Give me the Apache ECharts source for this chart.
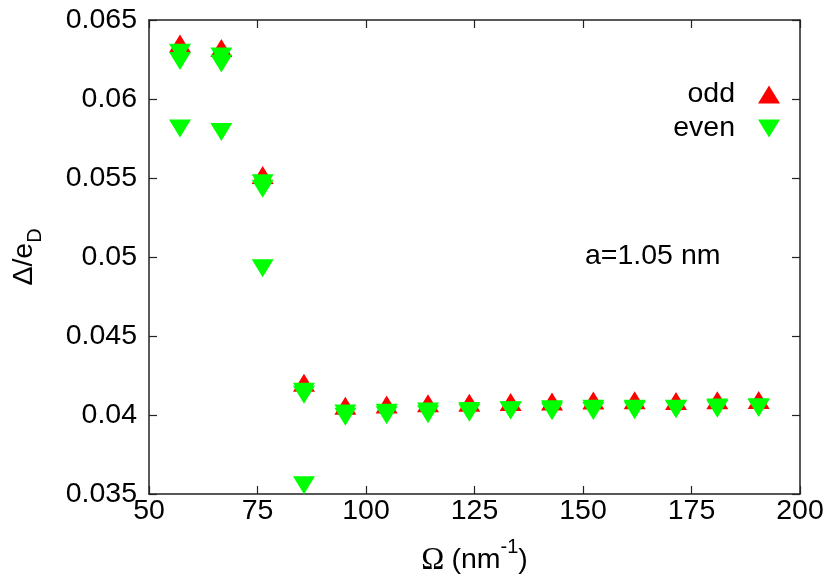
<!DOCTYPE html>
<html>
<head>
<meta charset="utf-8">
<script src="https://cdn.jsdelivr.net/npm/echarts@6/dist/echarts.min.js"></script>
<style>
  html, body { margin: 0; padding: 0; background: #fff; }
  #chart { width: 830px; height: 581px; }
</style>
</head>
<body>
<div id="chart"></div>
<script>
// Omega values (nm^-1), a = 1.05 nm
const omega = [57.14, 66.67, 76.19, 85.71, 95.24, 104.76, 114.29, 123.81, 133.33, 142.86, 152.38, 161.90, 171.43, 180.95, 190.48];

const oddVals = [0.06351, 0.06323, 0.05519, 0.04204, 0.04059, 0.04067, 0.04074, 0.04078, 0.04082, 0.04086, 0.04091, 0.04093, 0.04089, 0.04093, 0.04095];
const evenUpper = [0.06293, 0.06269, 0.05467, 0.04147, 0.04010, 0.04015, 0.04022, 0.04026, 0.04030, 0.04036, 0.04040, 0.04040, 0.04040, 0.04047, 0.04049];
const evenUpper2 = [0.06241, 0.06224, 0.05432, 0.04128, 0.03989, 0.03998, 0.04005, 0.04015, 0.04028, 0.04023, 0.04026, 0.04030, 0.04036, 0.04040, 0.04045];
const evenLower = [0.05814, 0.05791, 0.04929, 0.03555];

const xTicks = [50, 75, 100, 125, 150, 175, 200];
const yTicks = [0.035, 0.04, 0.045, 0.05, 0.055, 0.06, 0.065];

const UP = "path://M11,0L22,18L0,18Z";
const DOWN = "path://M0,0L22,0L11,18Z";
const FONT = "'Liberation Sans', Arial, sans-serif";
const FS = 28.5;

const zip = (xs, ys) => ys.map((y, i) => [xs[i], y]);
const evenData = zip(omega, evenUpper).concat(zip(omega, evenUpper2), zip(omega, evenLower));

const chart = echarts.init(document.getElementById("chart"), null, { renderer: "canvas" });

const xBase = {
  type: "value",
  min: xTicks[0],
  max: xTicks[xTicks.length - 1],
  interval: xTicks[1] - xTicks[0],
  splitLine: { show: false },
  axisLine: { lineStyle: { color: "#222", width: 1.5 } },
  axisTick: { inside: true, length: 8, lineStyle: { color: "#222", width: 1.2 } },
};
const yBase = {
  type: "value",
  min: yTicks[0],
  max: yTicks[yTicks.length - 1],
  interval: 0.005,
  splitLine: { show: false },
  axisLine: { onZero: false, lineStyle: { color: "#222", width: 1.5 } },
  axisTick: { inside: true, length: 8, lineStyle: { color: "#222", width: 1.2 } },
};

const option = {
  animation: false,
  backgroundColor: "#fff",
  textStyle: { fontFamily: FONT },
  grid: { left: 149, right: 30, top: 20, bottom: 84, containLabel: false },
  legend: {
    orient: "vertical",
    right: 45,
    top: 75,
    align: "right",
    itemWidth: 22,
    itemHeight: 18,
    itemGap: 5,
    selectedMode: false,
    textStyle: { fontSize: FS, color: "#000", fontFamily: FONT, padding: [0, 18, 0, 0] },
    data: [
      { name: "odd", icon: UP },
      { name: "even", icon: DOWN },
    ],
  },
  xAxis: [
    Object.assign({}, xBase, {
      position: "bottom",
      name: "{o|Ω} {b|(nm}{s|-1}{b|)}",
      nameLocation: "middle",
      nameGap: 43,
      nameTextStyle: {
        rich: {
          o: { fontSize: 31, fontFamily: "'Liberation Serif', serif", color: "#000", padding: [8, 4, 0, 0] },
          b: { fontSize: FS, fontFamily: FONT, color: "#000", padding: [8, 0, 0, 0] },
          s: { fontSize: 20, fontFamily: FONT, color: "#000", verticalAlign: "top" },
        },
      },
      axisLabel: { fontSize: FS, color: "#000", margin: 3, fontFamily: FONT },
    }),
    Object.assign({}, xBase, { position: "top", axisLabel: { show: false } }),
  ],
  yAxis: [
    Object.assign({}, yBase, {
      position: "left",
      name: "{b|Δ/e}{s|D}",
      nameLocation: "middle",
      nameRotate: 90,
      nameGap: 104,
      nameTextStyle: {
        rich: {
          b: { fontSize: FS, fontFamily: FONT, color: "#000", padding: [0, 0, 6, 0] },
          s: { fontSize: 20, fontFamily: FONT, color: "#000", verticalAlign: "bottom" },
        },
      },
      axisLabel: {
        fontSize: FS,
        color: "#000",
        margin: 12,
        fontFamily: FONT,
        formatter: (v) => String(+v.toFixed(3)),
      },
    }),
    Object.assign({}, yBase, { position: "right", axisLabel: { show: false } }),
  ],
  graphic: [
    {
      type: "text",
      left: 585,
      top: 242,
      style: { text: "a=1.05 nm", fontSize: FS, fontFamily: FONT, fill: "#000" },
    },
  ],
  series: [
    {
      name: "odd",
      type: "scatter",
      xAxisIndex: 0,
      yAxisIndex: 0,
      symbol: UP,
      symbolSize: [22, 18],
      itemStyle: { color: "#ff0000", opacity: 1 },
      data: zip(omega, oddVals),
      z: 2,
    },
    {
      name: "even",
      type: "scatter",
      xAxisIndex: 0,
      yAxisIndex: 0,
      symbol: DOWN,
      symbolSize: [22, 18],
      itemStyle: { color: "#00ff00", opacity: 1 },
      data: evenData,
      z: 3,
    },
  ],
};

chart.setOption(option);
</script>
</body>
</html>
